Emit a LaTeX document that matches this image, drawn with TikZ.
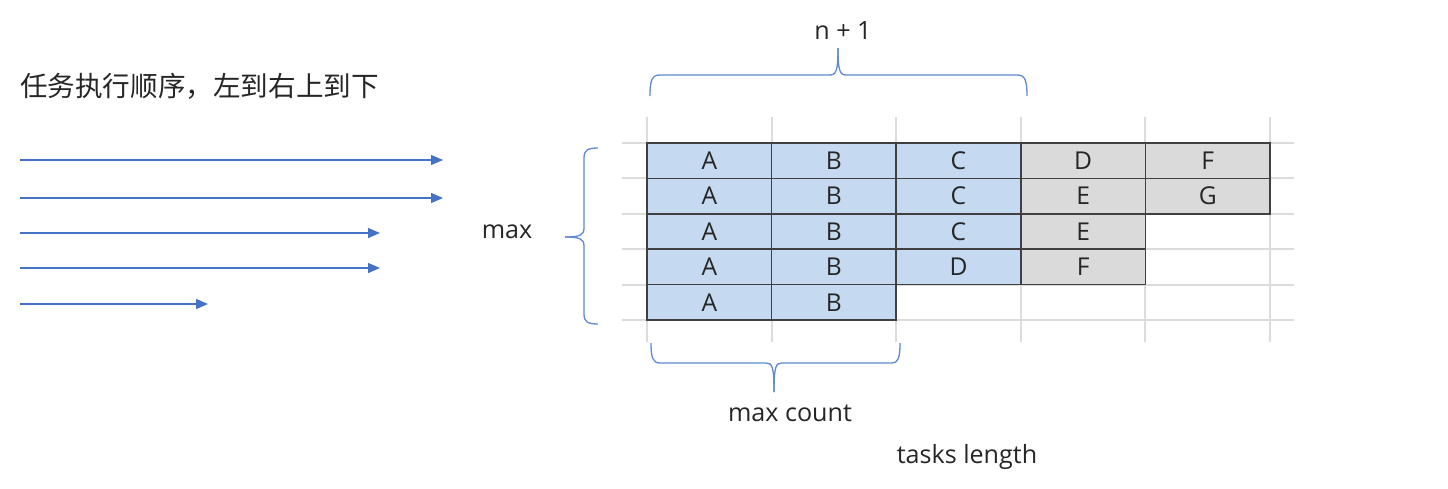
\documentclass[tikz,border=0pt]{standalone}
\usepackage{fontspec}
\setmainfont{Open Sans}
\newfontfamily\cjk{Noto Sans CJK SC}
\usetikzlibrary{arrows.meta}
\definecolor{cellblue}{RGB}{197,217,240}
\definecolor{cellgray}{RGB}{218,218,218}
\definecolor{gridgray}{RGB}{220,220,220}
\definecolor{arrowblue}{RGB}{68,114,196}
\definecolor{braceblue}{RGB}{98,138,208}
\definecolor{textdark}{RGB}{38,38,38}
\tikzset{
  task/.style={rectangle, draw=black!75, line width=0.9pt, minimum width=2.492cm, minimum height=0.708cm, inner sep=0pt, text=textdark, font=\fontsize{14}{16}\selectfont},
  bluecell/.style={task, fill=cellblue},
  graycell/.style={task, fill=cellgray},
  gridline/.style={gridgray, line width=1.1pt},
  orderarrow/.style={arrowblue, line width=0.75pt, -{Triangle[length=0.24cm, width=0.2cm]}},
  bracket/.style={braceblue, line width=0.75pt},
  label/.style={text=textdark, font=\fontsize{14.3}{16}\selectfont}
}
\begin{document}
\begin{tikzpicture}[x=0.02cm, y=-0.02cm]
\useasboundingbox (0,0) rectangle (1448,488);
\node[label, anchor=west] (order) at (14,86) {\cjk\fontsize{15.7}{18}\selectfont 任务执行顺序，左到右上到下};
\coordinate (s1) at (20,160);
\coordinate (e1) at (443,160);
\coordinate (s2) at (20,198);
\coordinate (e2) at (443,198);
\coordinate (s3) at (20,233);
\coordinate (e3) at (380,233);
\coordinate (s4) at (20,268);
\coordinate (e4) at (380,268);
\coordinate (s5) at (20,304);
\coordinate (e5) at (208,304);
\draw[orderarrow] (s1) -- (e1);
\draw[orderarrow] (s2) -- (e2);
\draw[orderarrow] (s3) -- (e3);
\draw[orderarrow] (s4) -- (e4);
\draw[orderarrow] (s5) -- (e5);
\foreach \gx in {647,771.6,896.2,1020.8,1145.4,1270}
  \draw[gridline] (\gx,117) -- (\gx,342);
\foreach \gy in {143,178.4,213.8,249.2,284.6,320}
  \draw[gridline] (622,\gy) -- (1294,\gy);
\node[bluecell] (r1a) at (709.3,160.7) {A};
\node[bluecell] (r1b) at (833.9,160.7) {B};
\node[bluecell] (r1c) at (958.5,160.7) {C};
\node[graycell] (r1d) at (1083.1,160.7) {D};
\node[graycell] (r1e) at (1207.7,160.7) {F};
\node[bluecell] (r2a) at (709.3,196.1) {A};
\node[bluecell] (r2b) at (833.9,196.1) {B};
\node[bluecell] (r2c) at (958.5,196.1) {C};
\node[graycell] (r2d) at (1083.1,196.1) {E};
\node[graycell] (r2e) at (1207.7,196.1) {G};
\node[bluecell] (r3a) at (709.3,231.5) {A};
\node[bluecell] (r3b) at (833.9,231.5) {B};
\node[bluecell] (r3c) at (958.5,231.5) {C};
\node[graycell] (r3d) at (1083.1,231.5) {E};
\node[bluecell] (r4a) at (709.3,266.9) {A};
\node[bluecell] (r4b) at (833.9,266.9) {B};
\node[bluecell] (r4c) at (958.5,266.9) {D};
\node[graycell] (r4d) at (1083.1,266.9) {F};
\node[bluecell] (r5a) at (709.3,302.3) {A};
\node[bluecell] (r5b) at (833.9,302.3) {B};
%braces
\draw[bracket] (650,96) .. controls (650,80) and (652,75) .. (660,75) -- (829,75) .. controls (836,75) and (838,72) .. (838,48);
\draw[bracket] (838,48) .. controls (838,72) and (840,75) .. (847,75) -- (1017,75) .. controls (1025,75) and (1027,80) .. (1027,96);
\draw[bracket] (651,343) .. controls (651,358) and (653,363) .. (660,363) -- (766,363) .. controls (772,363) and (774,366) .. (774,392);
\draw[bracket] (774,392) .. controls (774,366) and (776,363) .. (782,363) -- (892,363) .. controls (898,363) and (900,358) .. (900,343);
\draw[bracket] (598,148) .. controls (588,148) and (584,150) .. (584,158) -- (584,228) .. controls (584,235) and (580,237) .. (565,237);
\draw[bracket] (565,237) .. controls (580,237) and (584,239) .. (584,246) -- (584,314) .. controls (584,322) and (588,324) .. (598,324);
\node[label] (nplus) at (843,31) {n + 1};
\node[label] (maxlbl) at (507,232) {max};
\node[label] (maxcount) at (790,413) {max count};
\node[label] (taskslen) at (967,457) {tasks length};
\end{tikzpicture}
\end{document}
